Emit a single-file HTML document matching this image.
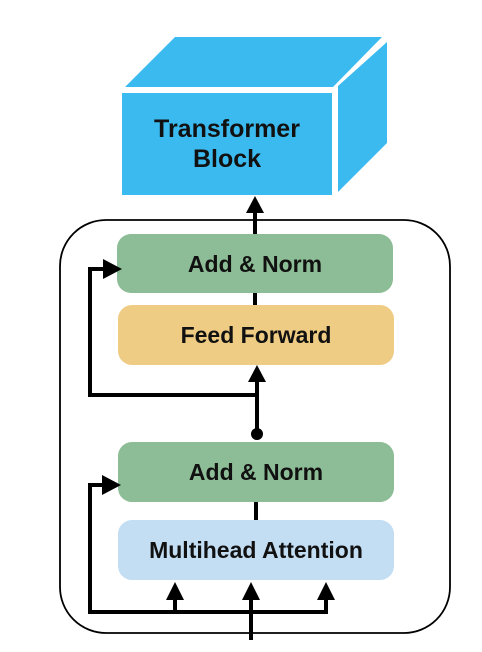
<!DOCTYPE html>
<html><head><style>
body{margin:0;background:#fff;width:482px;height:652px;overflow:hidden;}
svg{display:block}
text{font-family:"Liberation Sans",sans-serif;font-weight:bold;fill:#111;text-anchor:middle}
</style></head><body>
<svg width="482" height="652" viewBox="0 0 482 652">
<polygon points="125,87 175,37 382,37 333,87" fill="#3bbaef"/>
<polygon points="338,86 387,42 387,143 338,192" fill="#3bbaef"/>
<rect x="122" y="93" width="210" height="102" fill="#3bbaef"/>
<text x="227" y="137" font-size="25">Transformer</text>
<text x="227" y="167" font-size="25">Block</text>
<rect x="60" y="220" width="390" height="413" rx="46" fill="none" stroke="#000" stroke-width="1.8"/>
<rect x="117" y="234" width="276" height="59" rx="14" fill="#8dbd96"/>
<rect x="118" y="305" width="276" height="60" rx="14" fill="#efcc83"/>
<rect x="118" y="442" width="276" height="60" rx="14" fill="#8dbd96"/>
<rect x="118" y="520" width="276" height="60" rx="14" fill="#c3ddf3"/>
<text x="255" y="272" font-size="23">Add &amp; Norm</text>
<text x="256" y="343" font-size="23">Feed Forward</text>
<text x="256" y="480" font-size="23">Add &amp; Norm</text>
<text x="256" y="558" font-size="23">Multihead Attention</text>
<g stroke="#000" stroke-width="4" fill="none">
<line x1="255" y1="210" x2="255" y2="234"/>
<line x1="255" y1="293" x2="255" y2="305"/>
<line x1="257" y1="380" x2="257" y2="434"/>
<polyline points="257,395 90,395 90,269 106,269"/>
<line x1="256" y1="502" x2="256" y2="520"/>
<polyline points="90,612 90,485 106,485"/>
<polyline points="88,612 326,612 326,596"/>
<line x1="175" y1="612" x2="175" y2="596"/>
<line x1="251" y1="640" x2="251" y2="596"/>
</g>
<g fill="#000">
<polygon points="255,196 246,213 264,213"/>
<polygon points="257,365 248,382 266,382"/>
<circle cx="257" cy="434" r="6"/>
<polygon points="122,269 103,259 103,279"/>
<polygon points="121,485 102,475 102,495"/>
<polygon points="175,582 166,600 184,600"/>
<polygon points="251,582 242,600 260,600"/>
<polygon points="326,582 317,600 335,600"/>
</g>
</svg>
</body></html>
